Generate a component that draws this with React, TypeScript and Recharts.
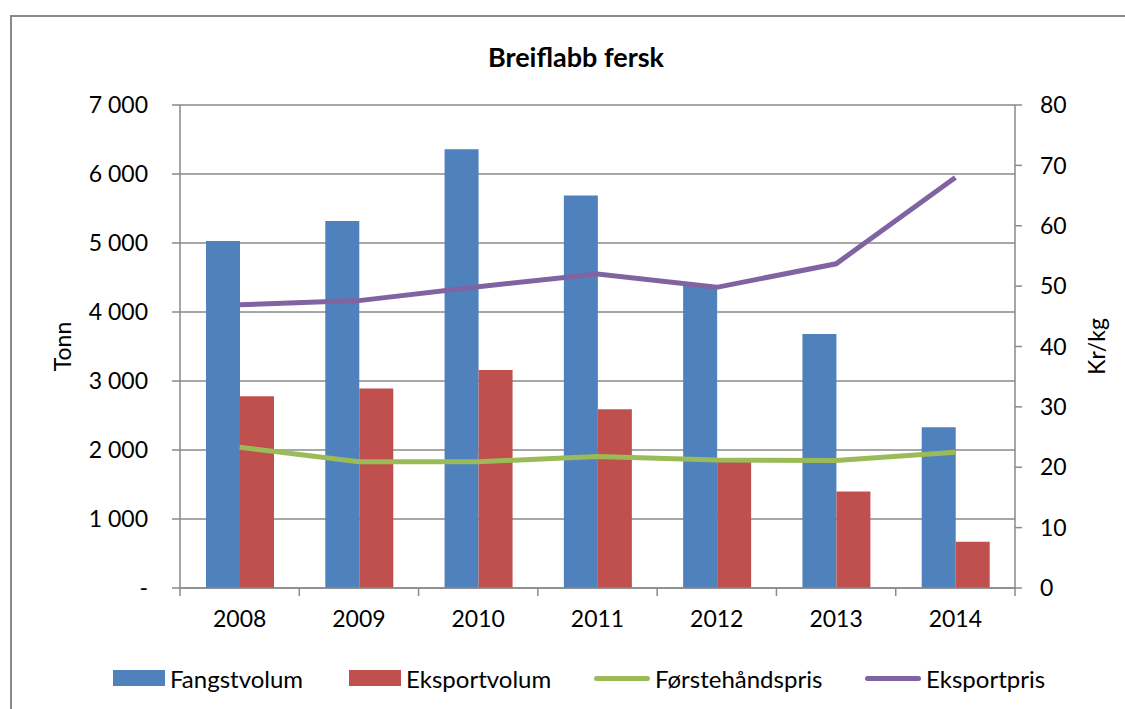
import React from 'react';
import { ComposedChart, Bar, Line, XAxis, YAxis, CartesianGrid } from 'recharts';

const years = ['2008', '2009', '2010', '2011', '2012', '2013', '2014'];
const fangstvolum = [5030, 5320, 6360, 5690, 4380, 3680, 2330];
const eksportvolum = [2780, 2890, 3160, 2590, 1830, 1400, 670];
const forstehandspris = [23.3, 20.9, 20.9, 21.8, 21.2, 21.1, 22.5];
const eksportpris = [46.9, 47.6, 49.9, 52.0, 49.8, 53.7, 68.0];

const leftTicks = [0, 1000, 2000, 3000, 4000, 5000, 6000, 7000];
const leftTickLabels = ['-', '1 000', '2 000', '3 000', '4 000', '5 000', '6 000', '7 000'];
const rightTicks = [0, 10, 20, 30, 40, 50, 60, 70, 80];

const title = 'Breiflabb fersk';
const leftLabel = 'Tonn';
const rightLabel = 'Kr/kg';

const BLUE = '#4F81BD';
const RED = '#C0504D';
const GREEN = '#9BBB59';
const PURPLE = '#8064A2';
const GRID = '#8a8a8a';
const FONT = 'Lato, "Open Sans", sans-serif';

const series = [
  { key: 'fangst', name: 'Fangstvolum', color: BLUE, type: 'bar', width: 236 },
  { key: 'eksportv', name: 'Eksportvolum', color: RED, type: 'bar', width: 245 },
  { key: 'forste', name: 'Førstehåndspris', color: GREEN, type: 'line', width: 271 },
  { key: 'eksportp', name: 'Eksportpris', color: PURPLE, type: 'line', width: 200 },
];

const data = years.map((y, i) => ({
  year: y,
  fangst: fangstvolum[i],
  eksportv: eksportvolum[i],
  forste: forstehandspris[i],
  eksportp: eksportpris[i],
}));

const tickStyle = { fontFamily: FONT, fontSize: 23, fill: '#000' };
const X_TICK_LEN = 8;

function YearTick(props: any) {
  const { x, y, payload, index, visibleTicksCount, width } = props;
  const half = payload && payload.offset ? payload.offset : width / (2 * visibleTicksCount);
  const axisY = y - X_TICK_LEN;
  const isLast = index === visibleTicksCount - 1;
  return (
    <g>
      <line x1={x - half} x2={x - half} y1={axisY} y2={axisY + X_TICK_LEN} stroke={GRID} strokeWidth={1.5} />
      {isLast && <line x1={x + half} x2={x + half} y1={axisY} y2={axisY + X_TICK_LEN} stroke={GRID} strokeWidth={1.5} />}
      <text x={x} y={y + 15} dy="0.71em" textAnchor="middle" style={tickStyle}>
        {payload.value}
      </text>
    </g>
  );
}

export default function App() {
  return (
    <div style={{ position: 'absolute', left: 0, top: 0, width: 1125, height: 709, background: '#fff', overflow: 'hidden', fontFamily: FONT }}>
      <div style={{ position: 'absolute', left: 10, top: 15, width: 1200, height: 800, borderTop: `2px solid ${GRID}`, borderLeft: `2px solid ${GRID}` }} />
      <div style={{ position: 'absolute', left: 0, top: 40, width: 1152, textAlign: 'center', fontSize: 27, fontWeight: 700, color: '#000' }}>{title}</div>
      <div style={{ position: 'absolute', left: 0, top: 0 }}>
        <ComposedChart
          width={1125}
          height={709}
          data={data}
          margin={{ top: 105, right: 10, bottom: 120, left: 60 }}
          barGap={0}
        >
          <CartesianGrid vertical={false} stroke={GRID} strokeWidth={1.5} yAxisId="left" />
          <XAxis
            dataKey="year"
            tickLine={false}
            axisLine={{ stroke: GRID, strokeWidth: 1.5 }}
            tickSize={X_TICK_LEN}
            tickMargin={0}
            tick={<YearTick />}
            height={1}
            interval={0}
          />
          <YAxis
            yAxisId="left"
            width={120}
            domain={[0, 7000]}
            ticks={leftTicks}
            tickFormatter={(v) => leftTickLabels[leftTicks.indexOf(v)]}
            axisLine={{ stroke: GRID, strokeWidth: 1.5 }}
            tickLine={{ stroke: GRID, strokeWidth: 1.5 }}
            tickSize={8}
            tickMargin={24}
            tick={tickStyle}
            interval={0}
            label={(props) => {
              const vb = props.viewBox;
              const cx = vb.x + 2;
              const cy = vb.y + vb.height / 2;
              return (
                <text x={cx} y={cy} transform={`rotate(-90, ${cx}, ${cy})`} textAnchor="middle" dominantBaseline="central" style={tickStyle}>
                  {leftLabel}
                </text>
              );
            }}
          />
          <YAxis
            yAxisId="right"
            orientation="right"
            width={100}
            domain={[0, 80]}
            ticks={rightTicks}
            axisLine={{ stroke: GRID, strokeWidth: 1.5 }}
            tickLine={{ stroke: GRID, strokeWidth: 1.5 }}
            tickSize={7}
            tickMargin={18}
            tick={{ ...tickStyle, textAnchor: 'start' }}
            interval={0}
            label={(props) => {
              const vb = props.viewBox;
              const cx = vb.x + 81;
              const cy = vb.y + vb.height / 2;
              return (
                <text x={cx} y={cy} transform={`rotate(-90, ${cx}, ${cy})`} textAnchor="middle" dominantBaseline="central" style={tickStyle}>
                  {rightLabel}
                </text>
              );
            }}
          />
          <Bar yAxisId="left" dataKey="fangst" name="Fangstvolum" fill={BLUE} barSize={34} isAnimationActive={false} />
          <Bar yAxisId="left" dataKey="eksportv" name="Eksportvolum" fill={RED} barSize={34} isAnimationActive={false} />
          <Line yAxisId="right" dataKey="forste" name="Førstehåndspris" stroke={GREEN} strokeWidth={5} dot={false} activeDot={false} type="linear" isAnimationActive={false} />
          <Line yAxisId="right" dataKey="eksportp" name="Eksportpris" stroke={PURPLE} strokeWidth={5} dot={false} activeDot={false} type="linear" isAnimationActive={false} />
        </ComposedChart>
      </div>
      <div style={{ position: 'absolute', left: 113, top: 662, height: 32, display: 'flex', alignItems: 'center', fontSize: 24, color: '#000' }}>
        {series.map((s) => (
          <div key={s.key} style={{ display: 'flex', alignItems: 'center', width: s.width, whiteSpace: 'nowrap' }}>
            {s.type === 'bar' ? (
              <div style={{ width: 52, height: 16, background: s.color, flexShrink: 0 }} />
            ) : (
              <div style={{ width: 56, height: 5, borderRadius: 3, background: s.color, flexShrink: 0 }} />
            )}
            <span style={{ marginLeft: 5 }}>{s.name}</span>
          </div>
        ))}
      </div>
    </div>
  );
}
